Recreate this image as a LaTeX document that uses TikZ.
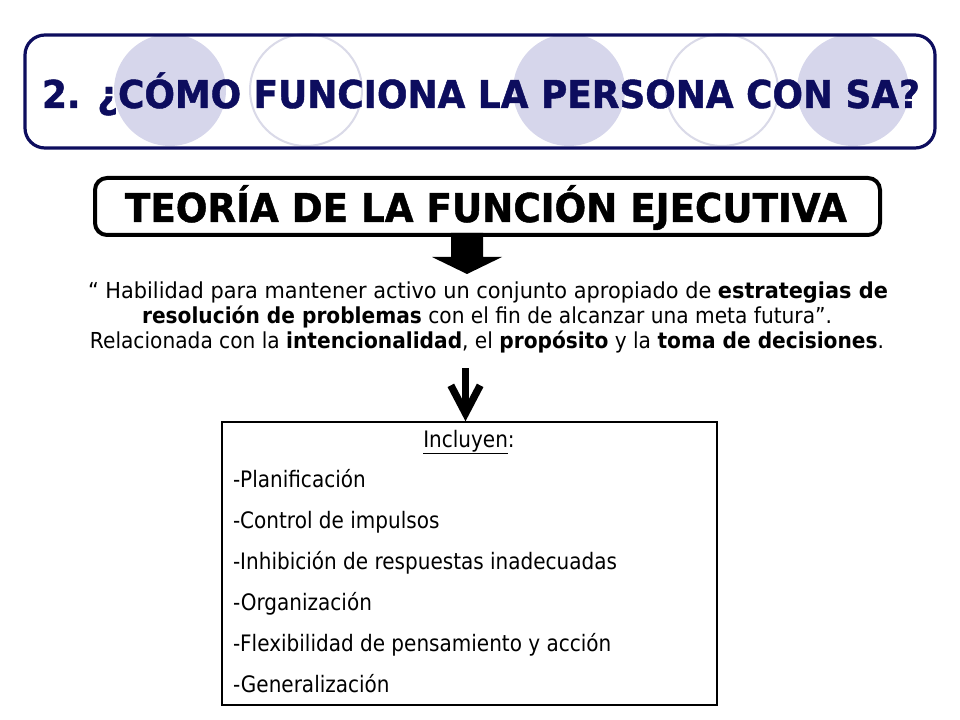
\documentclass[tikz,border=0pt]{standalone}
\usepackage{fontspec}
\usepackage{graphicx}
\usetikzlibrary{arrows.meta}
\setmainfont{DejaVu Sans}
\newfontfamily\heavyfont[FakeBold=1.2]{DejaVu Sans Bold}
\definecolor{navy}{HTML}{0D0D5E}
\definecolor{lav}{HTML}{D6D6EB}
\definecolor{lavline}{HTML}{DADAE8}
\newlength\fitlen
\newcommand\fitw[2]{\settowidth\fitlen{#2}\pgfmathsetmacro\fitratio{#1/\fitlen}\scalebox{\fitratio}[1]{#2}}
\newcommand\listfont{\fontsize{17pt}{20pt}\selectfont}
\newcommand\parfont{\fontsize{16.5pt}{19pt}\selectfont}
\begin{document}
\settowidth\fitlen{\listfont -Inhibición de respuestas inadecuadas}%
\pgfmathsetmacro\listratio{288pt/\fitlen}%
\settowidth\fitlen{\parfont Relacionada con la \textbf{intencionalidad}, el \textbf{propósito} y la \textbf{toma de decisiones}.}%
\pgfmathsetmacro\parratio{595.5pt/\fitlen}%
\begin{tikzpicture}[x=0.75pt,y=-0.75pt,
  lavfill/.style={fill=lav,draw=none},
  lavring/.style={draw=lavline,line width=1.5pt},
  titlebox/.style={draw=navy,line width=2.4pt,rounded corners=15pt,minimum width=682.5pt,minimum height=84.75pt,inner sep=0pt},
  theorybox/.style={draw=black,line width=3pt,rounded corners=9pt,minimum width=588.75pt,minimum height=42.75pt,inner sep=0pt},
  listbox/.style={draw=black,line width=1.1pt,minimum width=371.25pt,minimum height=212.25pt,inner sep=0pt},
  txt/.style={inner sep=0pt,outer sep=0pt},
  item/.style={txt,anchor=base west}]
\useasboundingbox[fill=white] (0,0) rectangle (960,720);
% title decoration circles
\fill[lav] (170,90) circle[radius=42pt];
\draw[lavring] (306,90) circle[radius=42pt];
\fill[lav] (569,90) circle[radius=42pt];
\draw[lavring] (722,90) circle[radius=42pt];
\fill[lav] (853,90) circle[radius=42pt];
% title box
\node[titlebox] (tbox) at (480,91.5) {};
\node[txt,anchor=base,text=navy] (title) at (481,108)
  {\fitw{658.5pt}{\fontsize{28.8pt}{34pt}\selectfont\heavyfont 2. ¿CÓMO FUNCIONA LA PERSONA CON SA?}};
% theory box
\node[theorybox] (theory) at (487.5,206.5) {};
\node[txt,anchor=base] (theorytxt) at (486,222)
  {\fitw{541.5pt}{\fontsize{29.8pt}{34pt}\selectfont\heavyfont TEORÍA DE LA FUNCIÓN EJECUTIVA}};
% block arrow
\coordinate (ba) at (467,233);
\fill[black] (ba) ++(-16,0) -- ++(0,24) -- ++(-19,0) -- ++(35,17) -- ++(35,-17) -- ++(-19,0) -- ++(0,-24) -- cycle;
% paragraph
\node[txt,anchor=base] (p1) at (488,298)
  {\fitw{600pt}{\parfont “ Habilidad para mantener activo un conjunto apropiado de \textbf{estrategias de}}};
\node[txt,anchor=base] (p2) at (487,323)
  {\scalebox{\parratio}[1]{\parfont\textbf{resolución de problemas} con el fin de alcanzar una meta futura”.}};
\node[txt,anchor=base] (p3) at (487,349)
  {\scalebox{\parratio}[1]{\parfont Relacionada con la \textbf{intencionalidad}, el \textbf{propósito} y la \textbf{toma de decisiones}.}};
% list box
\node[listbox] (list) at (469.5,563.5) {};
\coordinate (a2) at (465.5,368);
\draw[line width=5.5pt,-{Straight Barb[length=21pt,width=22pt]}] (a2) -- (a2 |- list.north);
\node[txt,anchor=base] (inc) at (469,447)
  {\scalebox{\listratio}[1]{\listfont\underline{Incluyen}:}};
\node[item] (i1) at (233,487) {\scalebox{\listratio}[1]{\listfont -Planificación}};
\node[item] (i2) at (233,528) {\scalebox{\listratio}[1]{\listfont -Control de impulsos}};
\node[item] (i3) at (233,569) {\scalebox{\listratio}[1]{\listfont -Inhibición de respuestas inadecuadas}};
\node[item] (i4) at (233,610) {\scalebox{\listratio}[1]{\listfont -Organización}};
\node[item] (i5) at (233,651) {\scalebox{\listratio}[1]{\listfont -Flexibilidad de pensamiento y acción}};
\node[item] (i6) at (233,692) {\scalebox{\listratio}[1]{\listfont -Generalización}};
\end{tikzpicture}
\end{document}
